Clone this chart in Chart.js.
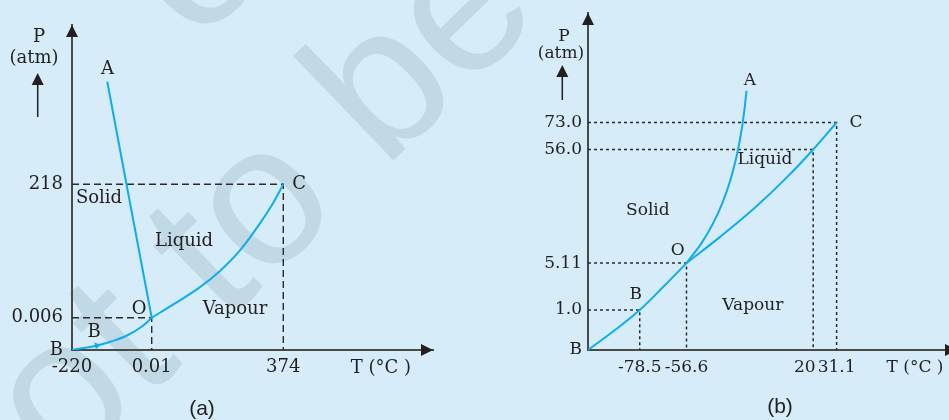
<!DOCTYPE html>
<html>
<head>
<meta charset="utf-8">
<script src="https://cdn.jsdelivr.net/npm/chart.js@4.4.1/dist/chart.umd.min.js"></script>
<style>
  html, body { margin: 0; padding: 0; background: #d6ecf8; }
  #wrap { position: relative; width: 949px; height: 420px; overflow: hidden; }
  canvas { position: absolute; top: 0; }
  #bg { left: 0; }
  #chart-a { left: 0; }
  #chart-b { left: 475px; }
</style>
</head>
<body>
<div id="wrap">
  <canvas id="bg" width="949" height="420"></canvas>
  <canvas id="chart-a" width="475" height="420"></canvas>
  <canvas id="chart-b" width="474" height="420"></canvas>
</div>
<script>
// ---- DATOS (a) agua ----
var A_X_TICKS  = [-220, 0.01, 374];
var A_X_LABELS = ["-220", "0.01", "374"];
var A_Y_TICKS  = [0, 0.006, 218];
var A_Y_LABELS = ["B", "0.006", "218"];

var A_OA_T = [0.01, -69.6, -122.6];          // curva de fusion O-A
var A_OA_P = [0.006, 218, 386.6];
var A_OB_T = [-220, -151, -109.6, -68.2, -23.2, 0.01];   // sublimacion B-O
var A_OB_P = [0, 0.00084, 0.00162, 0.0027, 0.00457, 0.006];
var A_OC_T = [0.01, 66.2, 137.3, 194.1, 250.9, 307.7, 344.7, 374];   // vaporizacion O-C
var A_OC_P = [0.006, 23.4, 50.05, 76.5, 110.1, 154.2, 187, 218];

var A_TEXT   = ["A", "C", "Solid", "Liquid", "O", "Vapour", "B"];
var A_TEXT_T = [-122, 419, -145.5, 91.8, -35, 236.7, -159.3];
var A_TEXT_P = [407.5, 218, 195, 124.8, 13.6, 13.6, 0.0033];

// ---- DATOS (b) CO2 ----
var B_X_TICKS  = [-78.5, -56.6, 20, 31.1];
var B_X_LABELS = ["-78.5", "-56.6", "20\u2003", "31.1"];
var B_Y_TICKS  = [0, 1.0, 5.11, 56.0, 73.0];
var B_Y_LABELS = ["B", "1.0", "5.11", "56.0", "73.0"];

var B_OB_T = [-100, -89.3, -78.5, -67.57, -56.6];
var B_OB_P = [0, 0.475, 1.0, 3.01, 5.11];
var B_OA_T = [-56.6, -47.52, -40.45, -34.94, -30.64, -27.32, -25.44, -23.62, -22.6, -21.39, -20.3];
var B_OA_P = [5.11, 14.06, 23.01, 31.96, 40.92, 49.87, 56, 66.26, 73, 82.35, 92.32];
var B_OC_T = [-56.6, -36.45, -16.3, 3.91, 20, 31.1];
var B_OC_P = [5.11, 16.75, 29.19, 43.38, 56, 73];

var B_TEXT   = ["A", "C", "Liquid", "Solid", "O", "B", "Vapour"];
var B_TEXT_T = [-18.3, 39.8, -9.2, -74.7, -60.7, -80.2, -16.5];
var B_TEXT_P = [98.9, 73, 51.7, 28.8, 10.5, 2.31, 1.35];

// ---- ESCALA ESQUEMATICA (tramos lineales entre marcas) ----
var PIECES = {
  "a-x": { v: [-220, 0.01, 374, 800],          at: [0, 0.2208, 0.5853, 1] },
  "a-y": { v: [0, 0.006, 218, 480],            at: [0, 0.0992, 0.510, 1] },
  "b-x": { v: [-100, -78.5, -56.6, 20, 31.1, 80], at: [0, 0.1449, 0.2759, 0.6308, 0.6964, 1] },
  "b-y": { v: [0, 1, 5.11, 56, 73, 140],       at: [0, 0.1186, 0.2579, 0.595, 0.675, 1] }
};

var INK  = "#231f20";
var LINE = "#0fadea";

function interp(xs, ys, x) {
  var n = xs.length, i = 1;
  while (i < n - 1 && x > xs[i]) i++;
  return ys[i - 1] + (x - xs[i - 1]) / (xs[i] - xs[i - 1]) * (ys[i] - ys[i - 1]);
}

class PiecewiseScale extends Chart.LinearScale {
  getPixelForValue(value) {
    var p = PIECES[this.options.pieces];
    return this.getPixelForDecimal(interp(p.v, p.at, value));
  }
  getValueForPixel(pixel) {
    var p = PIECES[this.options.pieces];
    return interp(p.at, p.v, this.getDecimalForPixel(pixel));
  }
}
PiecewiseScale.id = "piecewise";
Chart.register(PiecewiseScale);

// ---- HELPERS ----
function pts(ts, ps) {
  return ts.map(function(t, i) { return { x: t, y: ps[i] }; });
}

function curve(ts, ps, extra) {
  return Object.assign({
    data: pts(ts, ps),
    borderColor: LINE,
    borderWidth: 2,
    pointRadius: 0,
    cubicInterpolationMode: "monotone",
    fill: false,
    order: 1
  }, extra || {});
}

function guides(ts, ps, xmin, dash, width) {
  return ts.map(function(t, i) {
    return {
      data: [{ x: xmin, y: ps[i] }, { x: t, y: ps[i] }, { x: t, y: 0 }],
      borderColor: "#2a2a2a",
      borderWidth: width,
      borderDash: dash,
      pointRadius: 0,
      tension: 0,
      fill: false,
      order: 2
    };
  });
}

function arrowUp(ctx, x, tip, len, half) {
  ctx.beginPath();
  ctx.moveTo(x, tip);
  ctx.lineTo(x - half, tip + len);
  ctx.lineTo(x + half, tip + len);
  ctx.closePath();
  ctx.fill();
}

function arrowRight(ctx, tip, y, len, half) {
  ctx.beginPath();
  ctx.moveTo(tip, y);
  ctx.lineTo(tip - len, y - half);
  ctx.lineTo(tip - len, y + half);
  ctx.closePath();
  ctx.fill();
}

function scaleOpts(key, ticks, labels, fontSize, pad, isX, size) {
  return {
    type: "piecewise",
    pieces: key,
    bounds: "data",
    min: PIECES[key].v[0],
    max: PIECES[key].v[PIECES[key].v.length - 1],
    position: isX ? "bottom" : "left",
    grid: { display: false, drawTicks: false },
    border: { display: true, color: "#4a4a4a", width: 2 },
    ticks: {
      autoSkip: false,
      maxRotation: 0,
      padding: pad,
      color: INK,
      font: { family: "DejaVu Serif", size: fontSize },
      callback: function(v, i) { return labels[i]; }
    },
    afterBuildTicks: function(s) { s.ticks = ticks.map(function(v) { return { value: v }; }); },
    afterFit: function(s) {
      if (isX) s.height = size; else s.width = size;
      s.paddingTop = 0; s.paddingBottom = 0; s.paddingLeft = 0; s.paddingRight = 0;
    }
  };
}

function decoPlugin(o) {
  return {
    id: "deco",
    afterDraw: function(chart) {
      var ctx = chart.ctx, a = chart.chartArea;
      var sx = chart.scales.x, sy = chart.scales.y;
      ctx.save();
      ctx.fillStyle = INK;
      ctx.strokeStyle = INK;
      // flechas de los ejes
      arrowUp(ctx, a.left, a.top, 12, 6);
      arrowRight(ctx, a.right + o.xTipExtra, a.bottom, 12, 6);
      // flecha junto a P
      ctx.lineWidth = 1.5;
      ctx.beginPath();
      ctx.moveTo(o.pArrowX, o.pArrowTail);
      ctx.lineTo(o.pArrowX, o.pArrowTip + 10);
      ctx.stroke();
      arrowUp(ctx, o.pArrowX, o.pArrowTip, 12, 6);

      ctx.textAlign = "center";
      ctx.textBaseline = "middle";
      ctx.font = o.fontSize + "px 'DejaVu Serif'";
      ctx.fillText("P", o.pX, o.pY);
      ctx.fillText("(atm)", o.atmX, o.atmY);
      ctx.fillText("T (\u00b0C )", o.tX, o.tY);
      o.text.forEach(function(t, i) {
        ctx.fillText(t, sx.getPixelForValue(o.textT[i]), sy.getPixelForValue(o.textP[i]));
      });
      ctx.font = "21px 'Liberation Sans'";
      ctx.fillText(o.caption, o.capX, o.capY);
      ctx.restore();
    }
  };
}

function baseOptions(scales) {
  return {
    responsive: false,
    animation: false,
    devicePixelRatio: 1,
    events: [],
    plugins: { legend: { display: false }, tooltip: { enabled: false } },
    scales: scales
  };
}

// ---- FONDO (marca de agua) ----
(function() {
  var ctx = document.getElementById("bg").getContext("2d");
  ctx.fillStyle = "#c1d9e4";
  ctx.font = "200px 'Liberation Sans'";
  ctx.save();
  ctx.translate(-16, 556);
  ctx.rotate(-44 * Math.PI / 180);
  ctx.fillText("not to be", 0, 0);
  ctx.restore();
  ctx.save();
  ctx.translate(200, -30);
  ctx.rotate(-44 * Math.PI / 180);
  ctx.textAlign = "center";
  ctx.fillText("o", 0, 52);
  ctx.restore();
})();

// ---- GRAFICO (a) ----
var dsA = guides([0.01, 374], [0.006, 218], -220, [7, 4], 1.4);
dsA.push(curve(A_OA_T, A_OA_P, { cubicInterpolationMode: "default", tension: 0 }));
dsA.push(curve(A_OB_T, A_OB_P, {
  pointRadius: [0, 4, 0, 0, 0, 0],
  pointStyle: "triangle",
  rotation: 78,
  pointBackgroundColor: LINE,
  pointBorderWidth: 0
}));
dsA.push(curve(A_OC_T, A_OC_P));

var optA = baseOptions({
  x: scaleOpts("a-x", A_X_TICKS, A_X_LABELS, 18, 7, true, 70),
  y: scaleOpts("a-y", A_Y_TICKS, A_Y_LABELS, 18, 9, false, 72)
});
optA.layout = { padding: { left: 0, top: 25, right: 42, bottom: 0 } };

new Chart(document.getElementById("chart-a"), {
  type: "line",
  data: { datasets: dsA },
  options: optA,
  plugins: [decoPlugin({
    xTipExtra: 0, fontSize: 18,
    pArrowX: 37.7, pArrowTip: 73, pArrowTail: 117,
    pX: 39, pY: 37, atmX: 34, atmY: 58,
    tX: 381, tY: 368,
    text: A_TEXT, textT: A_TEXT_T, textP: A_TEXT_P,
    caption: "(a)", capX: 202, capY: 409
  })]
});

// ---- GRAFICO (b) ----
var dsB = guides([-78.5, -56.6, 20, 31.1], [1.0, 5.11, 56, 73], -100, [3, 3], 1.5);
dsB.push(curve(B_OB_T, B_OB_P));
dsB.push(curve(B_OA_T, B_OA_P));
dsB.push(curve(B_OC_T, B_OC_P));

var optB = baseOptions({
  x: scaleOpts("b-x", B_X_TICKS, B_X_LABELS, 17, 7, true, 70),
  y: scaleOpts("b-y", B_Y_TICKS, B_Y_LABELS, 17, 6, false, 113)
});
optB.layout = { padding: { left: 0, top: 13, right: 4, bottom: 0 } };

new Chart(document.getElementById("chart-b"), {
  type: "line",
  data: { datasets: dsB },
  options: optB,
  plugins: [decoPlugin({
    xTipExtra: 12, fontSize: 17,
    pArrowX: 87.3, pArrowTip: 65, pArrowTail: 100,
    pX: 89, pY: 37, atmX: 86, atmY: 54,
    tX: 440, tY: 368,
    text: B_TEXT, textT: B_TEXT_T, textP: B_TEXT_P,
    caption: "(b)", capX: 305, capY: 407
  })]
});
</script>
</body>
</html>
